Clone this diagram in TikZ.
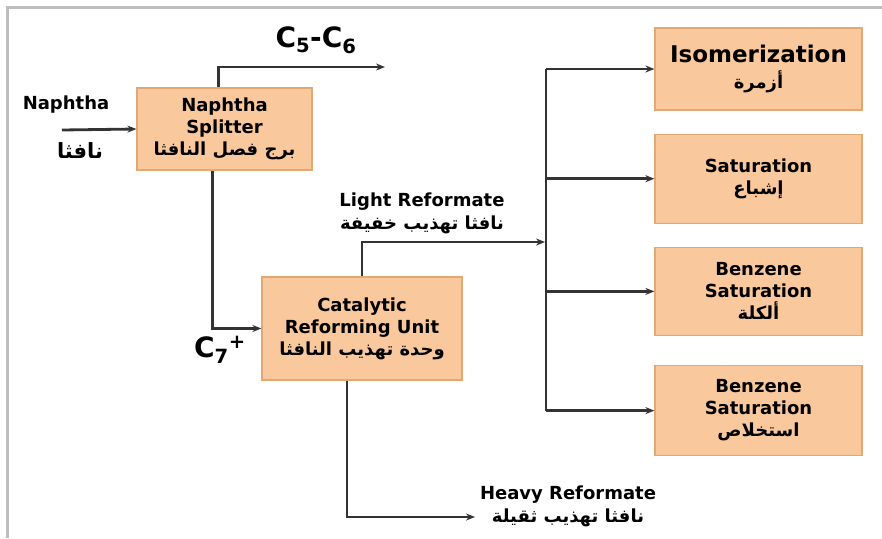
\documentclass[tikz,border=0pt]{standalone}
\usepackage{fontspec}
\setmainfont{DejaVu Sans}
\newfontfamily\arabicfont[Script=Arabic]{DejaVu Sans}
\TeXXeTstate=1
\usetikzlibrary{arrows.meta, positioning, calc}
\definecolor{unitpeach}{HTML}{F9C89C}
\definecolor{unitedge}{HTML}{E3A872}
\definecolor{flowgrey}{HTML}{333333}
\definecolor{framegrey}{HTML}{BDBDBD}
\tikzset{
  >={Stealth[length=9pt, width=7pt]},
  unit/.style={rectangle, draw=unitedge, line width=1.2pt, fill=unitpeach,
               align=center, inner sep=2pt, text=black,
               font=\fontsize{18}{22}\selectfont\bfseries},
  unitr/.style={unit, minimum width=207pt},
  flow/.style={->, line width=2.8pt, draw=flowgrey},
  bus/.style={line width=2.8pt, draw=flowgrey},
  lbl/.style={align=center, text=black, font=\fontsize{18}{23}\selectfont\bfseries},
  big/.style={text=black, font=\fontsize{28}{30}\selectfont\bfseries},
}
\newcommand{\ar}[1]{{\arabicfont\bfseries\beginR #1\endR}}

\begin{document}
\begin{tikzpicture}[x=1pt, y=-1pt]
    \useasboundingbox (0,0) rectangle (882,538);
    \draw[framegrey, line width=3pt] (7,538) -- (7,7) -- (882,7);

    % units
    \node[unit, minimum width=175pt, minimum height=82pt] (split) at (224.5,129)
      {Naphtha\\Splitter\\\ar{برج فصل النافثا}};
    \node[unit, minimum width=200pt, minimum height=103pt] (cru) at (362,328.5)
      {Catalytic\\Reforming Unit\\\ar{وحدة تهذيب النافثا}};

    % right column
    \node[unitr, minimum height=82pt, font=\fontsize{23}{26}\selectfont\bfseries] (iso) at (758.5,69)
      {Isomerization\\\ar{\fontsize{18}{22}\selectfont أزمرة}};
    \node[unitr, minimum height=89pt, below=23pt of iso] (sat) {Saturation\\\ar{إشباع}};
    \node[unitr, minimum height=88pt, below=23pt of sat] (alk) {Benzene\\Saturation\\\ar{ألكلة}};
    \node[unitr, minimum height=90pt, below=29pt of alk] (ext) {Benzene\\Saturation\\\ar{استخلاص}};

    % free ends
    \coordinate (feed) at (62,130);
    \coordinate (c56end) at (385,67);
    \coordinate (lrend) at (545,242);
    \coordinate (hvend) at (475,517);
    \coordinate (bus) at (546,0);

    % streams
    \draw[flow] (feed) -- (split.west);
    \draw[flow] ([xshift=-6pt]split.north) |- (c56end);
    \draw[flow] ([xshift=-12pt]split.south) |- (cru.west);
    \draw[flow] (cru.north) |- (lrend);
    \draw[flow] ([xshift=-15pt]cru.south) |- (hvend);
    \draw[bus] (bus|-iso.west) -- (bus|-ext.west);
    \foreach \u in {iso, sat, alk, ext}
      \draw[flow] (bus|-\u.west) -- (\u.west);

    % labels
    \node[lbl] (feedtop) at (66,105) {Naphtha};
    \node[lbl, font=\fontsize{21}{23}\selectfont\bfseries] (feedbot) at (80,151) {\ar{نافثا}};
    \node[big] (c56) at (316,40) {C\textsubscript{5}-C\textsubscript{6}};
    \node[big] (c7) at (220,350) {C\textsubscript{7}\textsuperscript{+}};
    \node[lbl] (light) at (422,213) {Light Reformate\\\ar{نافثا تهذيب خفيفة}};
    \node[lbl] (heavy) at (568,506) {Heavy Reformate\\\ar{نافثا تهذيب ثقيلة}};
\end{tikzpicture}
\end{document}
